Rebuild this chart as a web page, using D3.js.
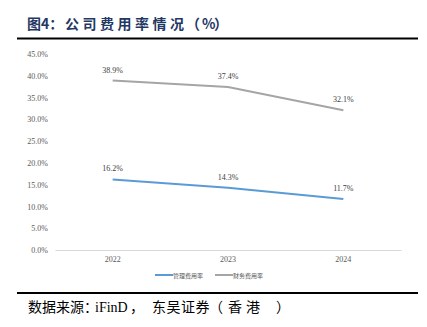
<!DOCTYPE html>
<html><head><meta charset="utf-8">
<script src="https://cdn.jsdelivr.net/npm/d3@7"></script>
<style>body{margin:0;background:#fff}svg{display:block}</style>
</head><body>
<script>
const categories = ["2022", "2023", "2024"];
const seriesNames = ["管理费用率", "财务费用率"];
const mgmtRate = [16.2, 14.3, 11.7];
const finRate = [38.9, 37.4, 32.1];
const yTicks = [0, 5, 10, 15, 20, 25, 30, 35, 40, 45];
const colors = ["#5B9BD5", "#A5A5A5"];

const W = 427, H = 327;
const svg = d3.select("body").append("svg").attr("width", W).attr("height", H);
const cjk = "'Noto Sans CJK SC', sans-serif";
const serif = "'Liberation Serif', 'Times New Roman', serif";

// Title
const title = svg.append("text").attr("y", 29)
  .attr("font-family", cjk).attr("font-weight", "bold")
  .attr("font-size", 14).attr("fill", "#1F3864");
title.append("tspan").attr("x", 27).text("图4：");
title.append("tspan").attr("x", 65).attr("letter-spacing", 3.5).text("公司费用率情况");
title.append("tspan").attr("x", 186).text("（");
title.append("tspan").attr("x", 202).text("%");
title.append("tspan").attr("x", 214).text("）");
svg.append("line").attr("x1", 17).attr("x2", 418).attr("y1", 38.5).attr("y2", 38.5)
  .attr("stroke", "#000").attr("stroke-width", 2);

const x = d3.scaleBand().domain(categories).range([55, 401]);
const y = d3.scaleLinear().domain([0, 45]).range([250, 54]);

// Y axis labels
const yAxis = d3.axisLeft(y).tickValues(yTicks).tickSize(0).tickPadding(0)
  .tickFormat(d => d.toFixed(1) + "%");
const gy = svg.append("g").attr("transform", "translate(48,0)").call(yAxis);
gy.select(".domain").remove();
gy.selectAll("text").attr("font-family", serif).attr("font-size", 8).attr("fill", "#595959");

// X axis
const xAxis = d3.axisBottom(x).tickSize(0).tickPadding(6);
const gx = svg.append("g").attr("transform", "translate(0,250)").call(xAxis);
gx.select(".domain").attr("stroke", "#D9D9D9").attr("stroke-width", 1);
gx.selectAll("text").attr("font-family", serif).attr("font-size", 8).attr("fill", "#595959");

const line = d3.line().x((d, i) => x(categories[i]) + x.bandwidth() / 2).y(d => y(d));
const allSeries = [mgmtRate, finRate];
allSeries.forEach((s, k) => {
  svg.append("path").datum(s).attr("d", line).attr("fill", "none")
    .attr("stroke", colors[k]).attr("stroke-width", 2);
  svg.selectAll(null).data(s).enter().append("text")
    .attr("x", (d, i) => x(categories[i]) + x.bandwidth() / 2)
    .attr("y", d => y(d) - 8)
    .attr("text-anchor", "middle")
    .attr("font-family", serif).attr("font-size", 8).attr("fill", "#404040")
    .text(d => d.toFixed(1) + "%");
});

// Legend
const legX = [155, 215];
seriesNames.forEach((n, k) => {
  svg.append("line").attr("x1", legX[k]).attr("x2", legX[k] + 18).attr("y1", 275).attr("y2", 275)
    .attr("stroke", colors[k]).attr("stroke-width", 2);
  svg.append("text").attr("x", legX[k] + 18).attr("y", 277.5)
    .attr("font-family", cjk).attr("font-size", 6).attr("fill", "#595959")
    .text(n);
});

// Bottom rule and source
svg.append("line").attr("x1", 17).attr("x2", 418).attr("y1", 293).attr("y2", 293)
  .attr("stroke", "#000").attr("stroke-width", 2);
const src = svg.append("text").attr("y", 312)
  .attr("font-family", cjk).attr("font-size", 14).attr("fill", "#000");
src.append("tspan").attr("x", 28).text("数据来源：");
src.append("tspan").attr("x", 95).attr("font-family", serif).text("iFinD");
src.append("tspan").attr("x", 130).text("，");
src.append("tspan").attr("x", 152).attr("letter-spacing", 0.5).text("东吴证券");
src.append("tspan").attr("x", 209).text("（");
src.append("tspan").attr("x", 228).attr("letter-spacing", 4).text("香港");
src.append("tspan").attr("x", 276).text("）");
</script>
</body></html>
